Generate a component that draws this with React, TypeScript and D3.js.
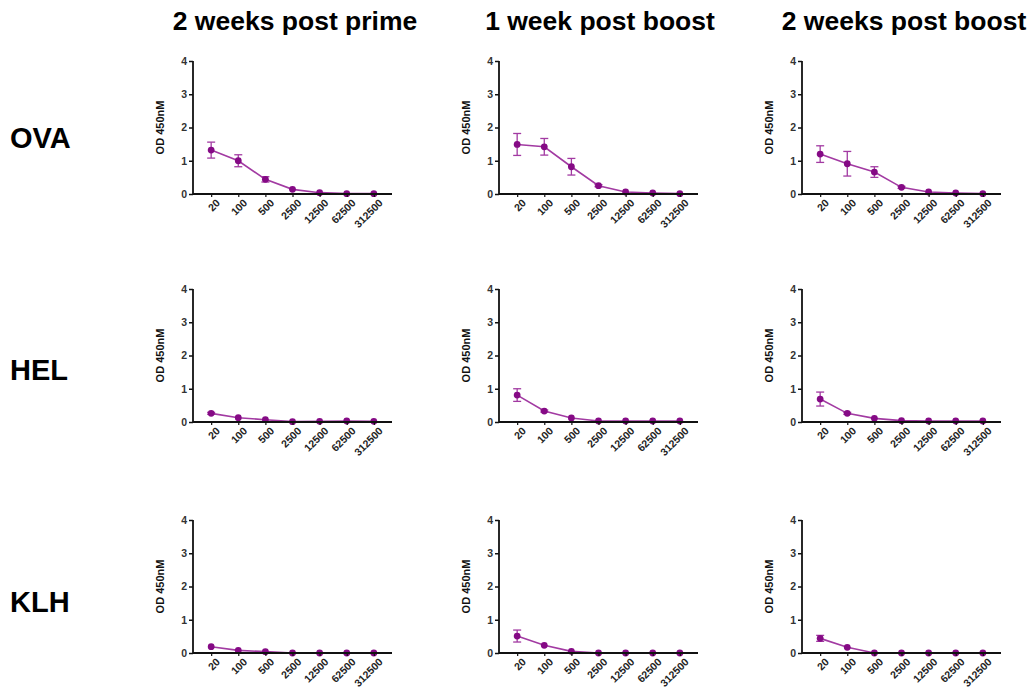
import React, {useEffect, useRef} from 'react';
import * as d3 from 'd3';

const dilutions = ['20', '100', '500', '2500', '12500', '62500', '312500'];
const timepoints = ['2 weeks post prime', '1 week post boost', '2 weeks post boost'];
const antigens = ['OVA', 'HEL', 'KLH'];
const yTicks = [0, 1, 2, 3, 4];

// mean OD per dilution, and error bar half-width
const ovaPrime = [1.32, 1.0, 0.44, 0.14, 0.04, 0.01, 0.01];
const ovaPrimeErr = [0.24, 0.18, 0.08, 0.02, 0.01, 0, 0];
const ovaBoost1 = [1.49, 1.42, 0.82, 0.25, 0.06, 0.03, 0.01];
const ovaBoost1Err = [0.33, 0.25, 0.25, 0.03, 0.01, 0, 0];
const ovaBoost2 = [1.2, 0.91, 0.66, 0.2, 0.06, 0.03, 0.01];
const ovaBoost2Err = [0.25, 0.37, 0.16, 0.03, 0.01, 0, 0];

const helPrime = [0.26, 0.13, 0.07, 0.01, 0.02, 0.03, 0.02];
const helPrimeErr = [0.03, 0.02, 0.01, 0, 0, 0, 0];
const helBoost1 = [0.81, 0.33, 0.12, 0.03, 0.03, 0.03, 0.03];
const helBoost1Err = [0.19, 0.03, 0.02, 0, 0, 0, 0];
const helBoost2 = [0.69, 0.26, 0.11, 0.04, 0.03, 0.03, 0.03];
const helBoost2Err = [0.21, 0.03, 0.02, 0, 0, 0, 0];

const klhPrime = [0.19, 0.08, 0.04, 0, 0, 0, 0];
const klhPrimeErr = [0.02, 0.01, 0, 0, 0, 0, 0];
const klhBoost1 = [0.51, 0.23, 0.05, 0, 0, 0, 0];
const klhBoost1Err = [0.18, 0.02, 0.01, 0, 0, 0, 0];
const klhBoost2 = [0.44, 0.17, 0, 0, 0, 0, 0];
const klhBoost2Err = [0.09, 0.02, 0, 0, 0, 0, 0];

const grid = [
    [[ovaPrime, ovaPrimeErr], [ovaBoost1, ovaBoost1Err], [ovaBoost2, ovaBoost2Err]],
    [[helPrime, helPrimeErr], [helBoost1, helBoost1Err], [helBoost2, helBoost2Err]],
    [[klhPrime, klhPrimeErr], [klhBoost1, klhBoost1Err], [klhBoost2, klhBoost2Err]],
];

const colLeft = [193, 499, 802];
const titleX = [295, 600, 904];
const rowTop = [61, 289, 520];
const rowLabelY = [148, 380, 612];
const plotW = 199;
const plotH = 133;
const lineColor = '#a23aa2';
const dotColor = '#850a85';
const font = 'Arial, "Liberation Sans", sans-serif';

const Panel = ({x0, y0, values, errs}) => {
    const xRef = useRef();
    const yRef = useRef();

    const xScale = d3.scalePoint()
        .domain(dilutions)
        .range([0, plotW])
        .padding(0.67);

    const yScale = d3.scaleLinear()
        .domain([0, 4])
        .range([plotH, 0]);

    useEffect(() => {
        const yAxis = d3.axisLeft(yScale).tickValues(yTicks).tickFormat(d3.format('d')).tickSize(4).tickPadding(2);
        const gy = d3.select(yRef.current);
        gy.selectAll('*').remove();
        gy.call(yAxis);
        gy.select('.domain').attr('stroke', '#111').attr('stroke-width', 1.8).attr('d', `M0,${plotH}V0`);
        gy.selectAll('.tick line').attr('stroke', '#111').attr('stroke-width', 1.5);
        gy.selectAll('.tick text')
            .attr('font-family', font).attr('font-size', 10.5).attr('font-weight', 'bold').attr('fill', '#333');

        const xAxis = d3.axisBottom(xScale).tickSize(3).tickPadding(3);
        const gx = d3.select(xRef.current);
        gx.selectAll('*').remove();
        gx.call(xAxis);
        gx.select('.domain').attr('stroke', '#111').attr('stroke-width', 1.8).attr('d', `M0,0H${plotW}`);
        gx.selectAll('.tick line').attr('stroke', '#111').attr('stroke-width', 1.2);
        gx.selectAll('.tick text')
            .attr('font-family', font).attr('font-size', 10.5).attr('font-weight', 'bold').attr('fill', '#222')
            .attr('text-anchor', 'end').attr('dy', '0.35em').attr('dx', '0.3em')
            .attr('transform', 'translate(0,5) rotate(-45)');
    }, []);

    const line = d3.line()
        .x((d, i) => xScale(dilutions[i]))
        .y(d => yScale(d));

    return (
        <g transform={`translate(${x0},${y0})`}>
            <path d={line(values)} fill="none" stroke={lineColor} strokeWidth={1.6} />
            {values.map((v, i) => {
                const e = errs[i];
                if (e <= 0.02) return null;
                const cx = xScale(dilutions[i]);
                return (
                    <g key={'e' + i} stroke={lineColor} strokeWidth={1.3}>
                        <line x1={cx} x2={cx} y1={yScale(v + e)} y2={yScale(v - e)} />
                        <line x1={cx - 4} x2={cx + 4} y1={yScale(v + e)} y2={yScale(v + e)} />
                        <line x1={cx - 4} x2={cx + 4} y1={yScale(v - e)} y2={yScale(v - e)} />
                    </g>
                );
            })}
            {values.map((v, i) => (
                <circle key={'c' + i} cx={xScale(dilutions[i])} cy={yScale(v)} r={3.4} fill={dotColor} />
            ))}
            <g ref={yRef} />
            <g ref={xRef} transform={`translate(0,${plotH})`} />
            <text
                transform={`translate(-29,${plotH / 2}) rotate(-90)`}
                textAnchor="middle"
                fontFamily={font}
                fontSize={11}
                fontWeight="bold"
                fill="#111"
            >OD 450nM</text>
        </g>
    );
};

const App = () => {
    useEffect(() => {
        document.body.style.margin = '0';
    }, []);

    return (
        <svg width={1033} height={689} style={{display: 'block', background: '#fff'}}>
            {timepoints.map((t, j) => (
                <text key={t} x={titleX[j]} y={30} textAnchor="middle" fontFamily={font}
                      fontSize={26.5} fontWeight="bold" fill="#000">{t}</text>
            ))}
            {antigens.map((a, i) => (
                <text key={a} x={10} y={rowLabelY[i]} fontFamily={font}
                      fontSize={29} fontWeight="bold" fill="#000">{a}</text>
            ))}
            {grid.map((row, i) => row.map((cell, j) => (
                <Panel key={i + '-' + j} x0={colLeft[j]} y0={rowTop[i]} values={cell[0]} errs={cell[1]} />
            )))}
        </svg>
    );
};

export default App;
